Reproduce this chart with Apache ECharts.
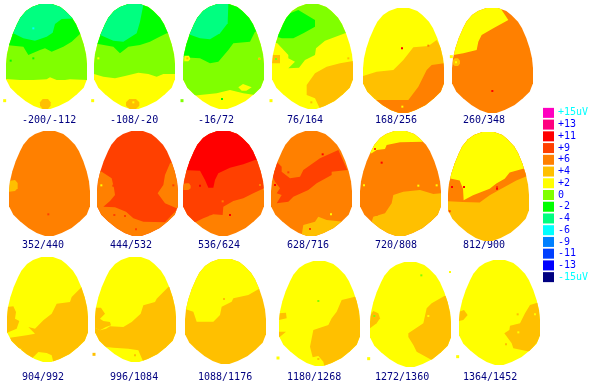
<!DOCTYPE html>
<html><head><meta charset="utf-8">
<style>html,body{margin:0;padding:0;background:#fff}#c{width:609px;height:392px}</style>
<script src="https://cdn.jsdelivr.net/npm/echarts@6/dist/echarts.min.js"></script>
</head><body><div id="c"></div>
<script>
// colour scale (microvolts)
const scaleTicks = ['+15uV','+13','+11','+9','+6','+4','+2','0','-2','-4','-6','-9','-11','-13','-15uV'];
const scaleLevels = [15,13,11,9,6,4,2,0,-2,-4,-6,-9,-11,-13,-15];
const scaleColors = ['#ff00c0','#ff0080','#ff0000','#ff4000','#ff8000','#ffc000','#ffff00','#80ff00','#00ff00','#00ff80','#00ffff','#0080ff','#0040ff','#0000ff','#000080'];
// time windows (ms)
const windows = ['-200/-112','-108/-20','-16/72','76/164','168/256','260/348','352/440','444/532','536/624','628/716','720/808','812/900','904/992','996/1084','1088/1176','1180/1268','1272/1360','1364/1452'];
// scalp outline, in map units
const scalp = [[103,0],[138,0],[163,9],[178,21],[198,41],[210,61],[223,91],[233,121],[240,151],[243,181],[243,226],[233,251],[213,271],[188,291],[158,306],[133,315],[108,315],[83,306],[58,291],[33,271],[13,251],[0,226],[0,181],[3,151],[10,121],[20,91],[33,61],[43,41],[60,21],[78,9]];
// iso-potential regions per map: [level, x,y, x,y, ...] painted in order
const map01 = [[2,0,0,243,0,243,315,0,315],[0,0,0,243,0,243,228,192,226,177,228,152,228,132,220,122,226,82,228,42,228,0,225],[-2,0,123,52,128,67,153,102,138,117,133,137,143,172,128,197,113,222,90,243,90,243,0,0,0],[-4,0,85,22,88,52,103,87,110,122,98,140,86,147,60,167,45,243,42,243,0,0,0],[4,110,285,126,285,134,295,134,305,126,315,110,315,102,305,102,295]];
const map02 = [[2,0,0,243,0,243,315,0,315],[0,0,210,28,218,63,223,93,216,133,206,163,210,188,218,208,210,243,210,243,0,0,0],[-2,0,118,58,128,78,148,103,128,138,123,168,113,188,103,218,88,243,88,243,0,0,0],[-4,0,85,58,110,88,113,128,88,138,53,148,3,150,0,0,0],[4,106,285,126,285,136,295,136,305,126,315,106,315,96,305,96,295]];
const map03 = [[2,0,0,243,0,243,315,0,315],[0,0,0,243,0,243,273,216,273,181,268,141,258,101,268,51,273,30,275,0,265],[2,166,250,180,240,206,250,190,260,176,260],[-2,0,160,51,163,81,178,106,173,136,138,151,118,201,113,216,83,243,83,243,0,0,0],[-4,136,0,134,58,111,88,81,106,51,103,0,85,0,0],[2,4,155,18,155,22,165,16,172,4,172]];
const map04 = [[2,0,0,243,0,243,315,0,315],[0,0,115,16,118,49,153,49,163,69,173,49,193,81,191,99,168,129,153,132,133,159,110,219,88,243,85,243,0,0,0],[-2,0,80,40,45,54,28,79,18,129,48,129,68,94,88,64,103,30,103,0,95],[4,243,171,204,178,164,188,129,208,104,243,104,273,129,283,144,315,243,315],[4,0,153,24,153,24,178,0,178]];
const map05 = [[2,0,0,243,0,243,315,0,315],[4,0,204,41,191,91,186,121,156,151,118,196,114,221,96,243,136,243,315,0,315],[6,243,166,206,171,191,186,166,236,136,276,31,276,31,315,243,315]];
const map06 = [[6,0,0,243,0,243,315,0,315],[2,149,6,169,36,124,61,89,81,79,101,74,126,34,136,4,141,0,141,0,0,149,0],[4,2,158,8,151,18,151,24,158,24,167,18,174,8,174,2,167]];
const map07 = [[6,0,0,243,0,243,315,0,315],[4,0,150,18,147,26,156,26,172,18,180,0,182]];
const map08 = [[9,0,0,243,0,243,315,0,315],[6,0,117,14,122,44,142,51,172,54,192,39,210,19,227,54,229,87,242,109,262,139,272,204,274,239,237,243,237,243,315,0,315],[6,219,97,204,132,199,162,182,187,204,217,239,232,243,232,243,82]];
const map09 = [[6,0,0,243,0,243,315,0,315],[9,0,0,243,0,243,172,211,187,181,202,151,210,121,227,119,252,91,250,61,262,36,274,11,257,0,242],[11,0,117,51,119,66,147,76,170,91,170,96,147,106,127,141,110,181,100,216,87,243,82,243,0,0,0],[6,1,160,8,157,18,157,23,164,23,172,16,177,1,177]];
const map10 = [[6,0,0,243,0,243,315,0,315],[9,17,92,32,107,32,122,57,142,87,137,97,117,147,82,202,57,229,117,182,122,182,132,137,157,112,177,67,197,52,212,17,217,32,192,17,187,27,172,12,152,5,137],[4,92,312,97,282,132,272,142,257,167,267,217,272,207,287,167,312,120,320]];
const map11 = [[6,0,0,243,0,243,315,0,315],[2,0,67,35,67,50,57,75,54,80,42,120,34,190,32,190,0,30,0],[4,35,272,40,257,75,247,95,217,100,192,130,182,180,177,220,189,243,187,243,315,0,315,0,272]];
const map12 = [[4,0,0,243,0,243,315,0,315],[6,0,200,45,202,95,204,125,183,160,164,205,140,243,125,243,0,0,0],[2,0,133,35,140,45,164,47,197,75,183,125,164,145,149,170,135,185,117,225,106,243,101,243,0,0,0]];
const map13 = [[2,0,0,243,0,243,315,0,315],[4,224,90,194,120,189,135,149,140,134,170,109,190,84,215,64,210,84,230,59,235,9,242,24,275,44,275,34,290,74,305,94,285,119,288,134,295,139,315,243,315,243,90],[4,0,150,19,148,27,165,24,185,37,192,29,215,0,227]];
const map14 = [[2,0,0,243,0,243,315,0,315],[4,240,90,220,90,185,125,180,135,145,145,137,170,110,195,85,210,45,208,33,215,15,220,0,212,0,260,35,270,55,272,100,275,130,280,145,315,243,315,243,90],[4,0,152,18,152,30,170,15,185,25,192,45,195,48,205,33,210,15,220,0,212]];
const map15 = [[4,0,0,243,0,243,315,0,315],[2,0,150,25,158,35,188,85,188,105,168,110,143,140,128,145,118,190,108,220,91,243,91,243,0,0,0]];
const map16 = [[2,0,0,243,0,243,315,0,315],[4,228,107,188,117,173,152,158,172,148,192,103,207,93,257,101,289,118,285,133,302,136,315,243,315,243,107],[4,0,157,21,155,23,172,0,177],[4,0,212,21,212,3,227,0,227]];
const map17 = [[2,0,0,243,0,243,315,0,315],[4,223,102,185,124,170,139,160,184,115,214,115,225,130,249,140,269,185,294,243,315,243,102],[4,0,161,10,147,25,154,30,169,20,184,0,199]];
const map18 = [[2,0,0,243,0,243,315,0,315],[4,235,128,213,135,198,160,183,190,153,197,151,210,136,220,158,250,163,265,213,275,243,235,243,128],[4,0,155,15,150,26,165,13,180,0,183]];
const maps = [map01,map02,map03,map04,map05,map06,map07,map08,map09,map10,map11,map12,map13,map14,map15,map16,map17,map18];
// isolated electrode readings per map: [x, y, level]
const specks = [
 [[82,73,-6],[-4,290,2],[14,170,-2],[82,163,-2]],
 [[13,163,2],[-4,290,2],[118,295,2]],
 [[13,163,4],[229,164,2],[229,165,4],[-3,290,0],[117,285,-2]],
 [[229,163,4],[12,165,0],[-3,290,2],[118,295,4]],
 [[117,121,11],[196,113,6],[118,296,2]],
 [[121,249,11],[-2,146,2],[12,163,2]],
 [[118,250,9]],
 [[13,163,2],[49,164,9],[229,163,9],[52,252,9],[84,255,9],[117,295,9]],
 [[51,164,11],[119,211,6],[141,252,11],[231,162,6],[81,257,6]],
 [[180,250,2],[155,70,11],[52,124,9],[12,162,11],[117,294,9]],
 [[12,163,2],[175,164,2],[65,95,11],[45,54,9],[230,163,2],[50,252,6]],
 [[12,159,11],[48,159,11],[147,159,9],[147,164,11],[5,229,9]],
 [],
 [[120,295,4],[-3,292,4]],
 [[117,120,4]],
 [[118,120,0],[118,294,4],[-3,291,2]],
 [[13,162,0],[154,40,0],[240,30,2],[-4,290,2],[175,162,2]],
 [[176,163,4],[141,253,4],[228,163,2],[178,217,2],[-4,290,2]]
];

// layout
const eggLeft = [6,94,183,272,363,452, 9,97,183,271,360,448, 7,95,185,279,370,459];
const eggTop = [4,4,4,4,8,8, 131,131,131,131,131,132, 257,257,259,261,262,260];
const eggHeight = i => i === 11 ? 109 : 105;
const labelLeft = [22,110,198,287,375,463];
const labelTop = [115,240,372];
const colorOf = lv => scaleColors[scaleLevels.indexOf(lv)];

const grid=[],xAxis=[],yAxis=[],series=[],graphic=[];
maps.forEach((regions,i)=>{
  grid.push({left:eggLeft[i],top:eggTop[i],width:81,height:eggHeight(i),show:false});
  xAxis.push({gridIndex:i,type:'value',min:0,max:243,show:false});
  yAxis.push({gridIndex:i,type:'value',min:0,max:315,inverse:true,show:false});
  series.push({
    type:'custom',xAxisIndex:i,yAxisIndex:i,silent:true,animation:false,
    data:regions.map((r,k)=>[k,r[0]]),
    renderItem(params,api){
      const r=regions[api.value(0)],pts=[];
      for(let k=1;k<r.length;k+=2)pts.push(api.coord([r[k],r[k+1]]));
      return {type:'polygon',shape:{points:pts},style:{fill:colorOf(r[0])},
        clipPath:{type:'polygon',shape:{points:scalp.map(p=>api.coord(p))}}};
    }
  });
  series.push({
    type:'scatter',xAxisIndex:i,yAxisIndex:i,silent:true,animation:false,clip:false,symbol:'rect',
    data:specks[i],
    symbolSize:v=>(v[0]<0||v[0]>243||v[1]<0)?3:2,
    itemStyle:{color:p=>colorOf(p.value[2]),opacity:1}
  });
  graphic.push({type:'text',left:labelLeft[i%6],top:labelTop[Math.floor(i/6)],silent:true,
    style:{text:windows[i],fill:'#000080',font:'10px "DejaVu Sans Mono"'}});
});
// colour key
const k=maps.length;
grid.push({left:543,top:107,width:11,height:176,show:false});
xAxis.push({gridIndex:k,type:'value',min:0,max:1,show:false});
yAxis.push({gridIndex:k,type:'category',inverse:true,position:'right',data:scaleTicks,
  axisLine:{show:false},axisTick:{show:false},
  axisLabel:{show:true,margin:4,interval:0,fontFamily:'DejaVu Sans Mono',fontSize:10,
    color:(v)=>v.endsWith('uV')?'#00ffff':'#0000ff'}});
series.push({type:'bar',xAxisIndex:k,yAxisIndex:k,barWidth:10,silent:true,animation:false,
  data:scaleTicks.map((t,j)=>({value:1,itemStyle:{color:scaleColors[j]}}))});

echarts.init(document.getElementById('c'),null,{renderer:'canvas'}).setOption({
  backgroundColor:'#fff',animation:false,grid,xAxis,yAxis,series,graphic
});
</script></body></html>
